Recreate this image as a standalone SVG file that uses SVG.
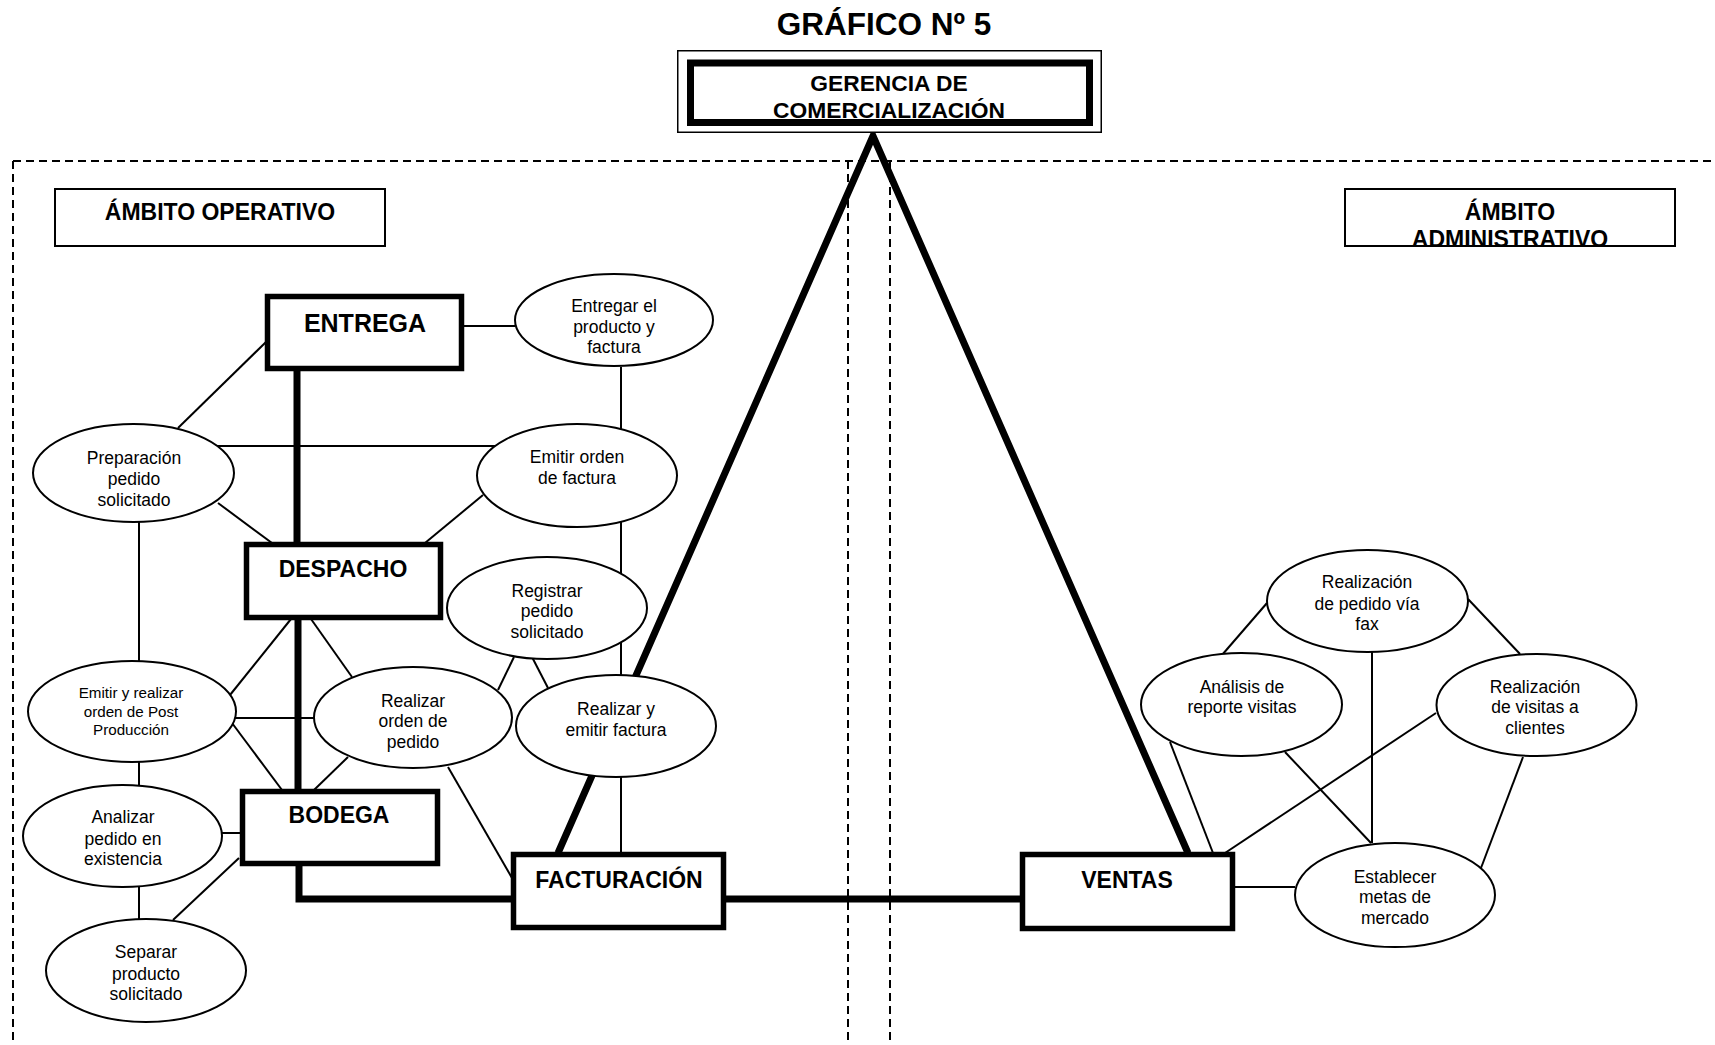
<svg xmlns="http://www.w3.org/2000/svg" width="1715" height="1045" viewBox="0 0 1715 1045">
  <style>
    .dash { fill: none; stroke: #000; stroke-width: 2; stroke-dasharray: 8 5; }
    .thin { fill: none; stroke: #000; stroke-width: 2; }
    .thick { fill: none; stroke: #000; stroke-width: 7; stroke-linejoin: miter; }
    .box { fill: #fff; stroke: #000; stroke-width: 5.5; }
    .label { fill: #fff; stroke: #000; stroke-width: 2; }
    .oval { fill: #fff; stroke: #000; stroke-width: 2; }
    .bt { font-family: "Liberation Sans", Arial, sans-serif; font-weight: bold; text-anchor: middle; fill: #000; }
    .et { font-family: "Liberation Sans", Arial, sans-serif; font-size: 17.5px; text-anchor: middle; fill: #000; }
    .et.small { font-size: 15.2px; }
  </style>
  <defs>
    <clipPath id="clip-admin">
      <rect x="1344" y="188" width="332" height="58"/>
    </clipPath>
  </defs>
  <rect width="1715" height="1045" fill="#fff"/>

  <!-- Title -->
  <text class="bt" x="884" y="35" font-size="31.5">GRÁFICO Nº 5</text>

  <!-- Scope boundaries -->
  <g id="boundaries">
    <line class="dash" x1="13" y1="161" x2="1715" y2="161"/>
    <line class="dash" x1="13" y1="161" x2="13" y2="1045"/>
    <line class="dash" x1="848" y1="161" x2="848" y2="1045"/>
    <line class="dash" x1="890" y1="161" x2="890" y2="1045"/>
  </g>

  <!-- Connectors -->
  <g id="connectors">
    <!-- main thick structure -->
    <polyline class="thick" points="558,853 873,136 1188,853"/>
    <line class="thick" x1="297" y1="370" x2="297" y2="543"/>
    <line class="thick" x1="298" y1="619" x2="298" y2="790"/>
    <polyline class="thick" points="299,865 299,899 512,899"/>
    <line class="thick" x1="725" y1="899" x2="1021" y2="899"/>
    <!-- operational links -->
    <line class="thin" x1="463" y1="326" x2="515" y2="326"/>
    <line class="thin" x1="621" y1="367" x2="621" y2="853"/>
    <line class="thin" x1="266" y1="342" x2="178" y2="428"/>
    <line class="thin" x1="217" y1="446" x2="497" y2="446"/>
    <line class="thin" x1="483" y1="495" x2="425" y2="543"/>
    <line class="thin" x1="218" y1="503" x2="272" y2="543"/>
    <line class="thin" x1="139" y1="522" x2="139" y2="661"/>
    <line class="thin" x1="230" y1="695" x2="291" y2="619"/>
    <line class="thin" x1="234" y1="718" x2="314" y2="718"/>
    <line class="thin" x1="232" y1="723" x2="282" y2="790"/>
    <line class="thin" x1="311" y1="619" x2="352" y2="677"/>
    <line class="thin" x1="348" y1="757" x2="314" y2="790"/>
    <line class="thin" x1="448" y1="767" x2="512" y2="878"/>
    <line class="thin" x1="139" y1="762" x2="139" y2="785"/>
    <line class="thin" x1="222" y1="833" x2="241" y2="833"/>
    <line class="thin" x1="139" y1="887" x2="139" y2="920"/>
    <line class="thin" x1="239" y1="858" x2="173" y2="920"/>
    <line class="thin" x1="514" y1="657" x2="498" y2="690"/>
    <line class="thin" x1="532" y1="657" x2="548" y2="688"/>
    <!-- administrative links -->
    <line class="thin" x1="1222" y1="655" x2="1267" y2="603"/>
    <line class="thin" x1="1468" y1="599" x2="1520" y2="654"/>
    <line class="thin" x1="1372" y1="652" x2="1372" y2="843"/>
    <line class="thin" x1="1170" y1="742" x2="1213" y2="853"/>
    <line class="thin" x1="1285" y1="752" x2="1371" y2="843"/>
    <line class="thin" x1="1436" y1="713" x2="1225" y2="853"/>
    <line class="thin" x1="1523" y1="757" x2="1481" y2="868"/>
    <line class="thin" x1="1233" y1="887" x2="1295" y2="887"/>
  </g>

  <!-- Top management -->
  <g id="gerencia">
    <rect x="677.75" y="50.75" width="423.5" height="81.5" fill="#fff" stroke="#000" stroke-width="1.5"/>
    <rect x="690.5" y="63" width="399" height="59.5" fill="#fff" stroke="#000" stroke-width="7"/>
    <text class="bt" x="889" y="91" font-size="22.8">GERENCIA DE</text>
    <text class="bt" x="889" y="118" font-size="22.8">COMERCIALIZACIÓN</text>
  </g>

  <!-- Scope labels -->
  <g id="ambito-operativo">
    <rect class="label" x="55" y="189" width="330" height="57"/>
    <text class="bt" x="220" y="220" font-size="23">ÁMBITO OPERATIVO</text>
  </g>
  <g id="ambito-administrativo">
    <g clip-path="url(#clip-admin)">
      <text class="bt" x="1510" y="220" font-size="23">ÁMBITO</text>
      <text class="bt" x="1510" y="247" font-size="23">ADMINISTRATIVO</text>
    </g>
    <rect x="1345" y="189" width="330" height="57" fill="none" stroke="#000" stroke-width="2"/>
  </g>

  <!-- Department boxes -->
  <g id="entrega">
    <rect class="box" x="267.5" y="296.5" width="194" height="72"/>
    <text class="bt" x="365" y="332" font-size="25">ENTREGA</text>
  </g>
  <g id="despacho">
    <rect class="box" x="246.5" y="544.5" width="194" height="73"/>
    <text class="bt" x="343" y="577" font-size="23">DESPACHO</text>
  </g>
  <g id="bodega">
    <rect class="box" x="242.5" y="791.5" width="195" height="72"/>
    <text class="bt" x="339" y="823" font-size="23">BODEGA</text>
  </g>
  <g id="facturacion">
    <rect class="box" x="513.5" y="854.5" width="210" height="73"/>
    <text class="bt" x="619" y="888" font-size="23">FACTURACIÓN</text>
  </g>
  <g id="ventas">
    <rect class="box" x="1022.5" y="854.5" width="210" height="74"/>
    <text class="bt" x="1127" y="888" font-size="23">VENTAS</text>
  </g>

  <!-- Activities -->
  <g id="entregar-producto">
    <ellipse class="oval" cx="614" cy="320" rx="99" ry="46"/>
    <text class="et" x="614" y="312">Entregar el</text>
    <text class="et" x="614" y="333">producto y</text>
    <text class="et" x="614" y="353">factura</text>
  </g>
  <g id="preparacion-pedido">
    <ellipse class="oval" cx="133.5" cy="473" rx="100.5" ry="49"/>
    <text class="et" x="134" y="464">Preparación</text>
    <text class="et" x="134" y="485">pedido</text>
    <text class="et" x="134" y="506">solicitado</text>
  </g>
  <g id="emitir-orden-factura">
    <ellipse class="oval" cx="577" cy="475.5" rx="100" ry="51.5"/>
    <text class="et" x="577" y="463">Emitir orden</text>
    <text class="et" x="577" y="484">de factura</text>
  </g>
  <g id="registrar-pedido">
    <ellipse class="oval" cx="547" cy="608" rx="100" ry="51"/>
    <text class="et" x="547" y="597">Registrar</text>
    <text class="et" x="547" y="617">pedido</text>
    <text class="et" x="547" y="638">solicitado</text>
  </g>
  <g id="post-produccion">
    <ellipse class="oval" cx="132" cy="711.5" rx="104" ry="50.5"/>
    <text class="et small" x="131" y="698">Emitir y realizar</text>
    <text class="et small" x="131" y="717">orden de Post</text>
    <text class="et small" x="131" y="735">Producción</text>
  </g>
  <g id="realizar-orden-pedido">
    <ellipse class="oval" cx="413" cy="717.5" rx="99" ry="50.5"/>
    <text class="et" x="413" y="707">Realizar</text>
    <text class="et" x="413" y="727">orden de</text>
    <text class="et" x="413" y="748">pedido</text>
  </g>
  <g id="realizar-emitir-factura">
    <ellipse class="oval" cx="616" cy="726" rx="100" ry="51"/>
    <text class="et" x="616" y="715">Realizar y</text>
    <text class="et" x="616" y="736">emitir factura</text>
  </g>
  <g id="analizar-pedido">
    <ellipse class="oval" cx="122.5" cy="836" rx="99.5" ry="51"/>
    <text class="et" x="123" y="823">Analizar</text>
    <text class="et" x="123" y="845">pedido en</text>
    <text class="et" x="123" y="865">existencia</text>
  </g>
  <g id="separar-producto">
    <ellipse class="oval" cx="146" cy="970.5" rx="100" ry="51.5"/>
    <text class="et" x="146" y="958">Separar</text>
    <text class="et" x="146" y="980">producto</text>
    <text class="et" x="146" y="1000">solicitado</text>
  </g>
  <g id="pedido-fax">
    <ellipse class="oval" cx="1367.5" cy="601" rx="100.5" ry="51"/>
    <text class="et" x="1367" y="588">Realización</text>
    <text class="et" x="1367" y="610">de pedido vía</text>
    <text class="et" x="1367" y="630">fax</text>
  </g>
  <g id="analisis-reporte">
    <ellipse class="oval" cx="1241.5" cy="704.5" rx="100.5" ry="51.5"/>
    <text class="et" x="1242" y="693">Análisis de</text>
    <text class="et" x="1242" y="713">reporte visitas</text>
  </g>
  <g id="visitas-clientes">
    <ellipse class="oval" cx="1536.5" cy="705" rx="100" ry="51"/>
    <text class="et" x="1535" y="693">Realización</text>
    <text class="et" x="1535" y="713">de visitas a</text>
    <text class="et" x="1535" y="734">clientes</text>
  </g>
  <g id="metas-mercado">
    <ellipse class="oval" cx="1395" cy="895" rx="100" ry="52"/>
    <text class="et" x="1395" y="883">Establecer</text>
    <text class="et" x="1395" y="903">metas de</text>
    <text class="et" x="1395" y="924">mercado</text>
  </g>
</svg>
